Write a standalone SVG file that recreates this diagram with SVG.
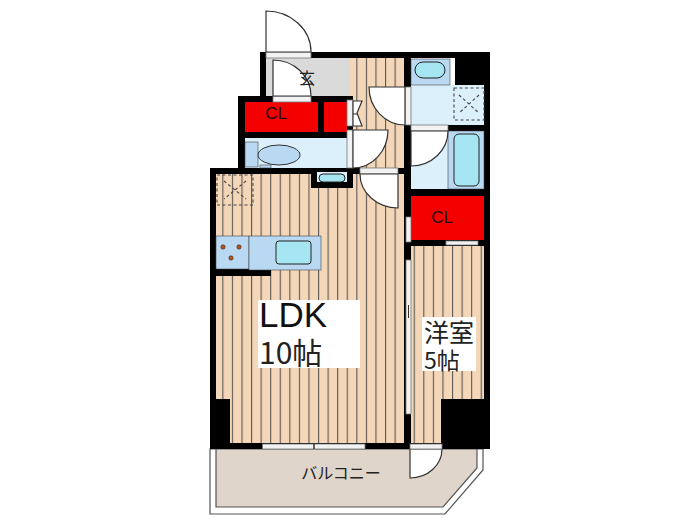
<svg xmlns="http://www.w3.org/2000/svg" width="700" height="525" viewBox="0 0 700 525">
<style>
.w{fill:#000}
.d{fill:#fff;stroke:#333;stroke-width:1.2}
.s{fill:#f2f2f2;stroke:#777;stroke-width:.8}
.b{fill:#b9d8f2;stroke:#444;stroke-width:.6}
.l{fill:#dcf0fb}
.c{fill:#a6e6f2;stroke:#222;stroke-width:1}
.r{fill:#f50000}
.x{fill:none;stroke:#444;stroke-width:1.1;stroke-dasharray:3 2.500}
.t{font-family:"Liberation Sans",Arial,"Noto Sans CJK JP",sans-serif;fill:#111}
.j{font-family:"Noto Sans CJK JP","Liberation Sans",sans-serif;fill:#222}
</style>
<defs>
<pattern id="wood" patternUnits="userSpaceOnUse" x="222.3" y="0" width="9.57" height="20">
<rect width="9.57" height="20" fill="#f4d6b9"/><rect x="0" width="1.1" height="20" fill="#5c5954"/>
</pattern>
</defs>
<rect width="700" height="525" fill="#fff"/>
<g id="balcony">
<path d="M210,449V514H445L483,470V449Z" fill="#fff" stroke="#555" stroke-width="1.2"/>
<path d="M216,449V507H443L477,468V449Z" fill="#e0d5ca" stroke="#555" stroke-width="1.2"/>
<text class="j" x="341" y="479" font-size="16" text-anchor="middle">バルコニー</text>
<path class="d" d="M410,449H442A32,29 0 0 1 410,478Z"/>
</g>
<g id="ldk">
<rect x="216" y="174" width="188" height="270" fill="url(#wood)"/>
<rect x="258" y="300" width="102" height="68" fill="#fff"/>
<text class="t" x="259" y="327" font-size="35">LDK</text>
<text class="j" x="259" y="364" font-size="30">10帖</text>
</g>
<g id="hall"><rect x="349" y="58" width="55" height="118" fill="url(#wood)"/></g>
<g id="genkan"><rect x="266" y="58" width="84" height="38" fill="#dadada"/></g>
<g id="room">
<rect x="411" y="246" width="73" height="198" fill="url(#wood)"/>
<rect x="422" y="317" width="54" height="54" fill="#fff"/>
<text class="j" x="424" y="342" font-size="25">洋室</text>
<text class="j" x="424" y="369" font-size="23">5帖</text>
</g>
<g id="walls">
<rect class="w" x="260" y="52" width="230" height="6"/>
<rect class="w" x="260" y="52" width="6" height="45"/>
<rect class="w" x="455" y="52" width="35" height="34"/>
<rect class="w" x="484" y="52" width="6" height="397"/>
<rect class="w" x="238" y="96" width="115" height="6"/>
<rect class="w" x="238" y="96" width="7" height="78"/>
<rect class="w" x="238" y="132" width="115" height="6"/>
<rect class="w" x="318" y="96" width="6" height="40"/>
<rect class="w" x="347" y="96" width="6" height="42"/>
<rect class="w" x="210" y="168" width="143" height="6"/>
<rect class="w" x="311" y="168" width="42" height="20"/>
<rect class="w" x="347" y="168" width="13" height="6"/>
<rect class="w" x="398" y="168" width="6" height="6"/>
<rect class="w" x="210" y="168" width="6" height="281"/>
<rect class="w" x="210" y="399" width="20" height="50"/>
<rect class="w" x="441" y="399" width="49" height="50"/>
<rect class="w" x="210" y="443" width="280" height="6"/>
<rect class="w" x="404" y="52" width="7" height="392"/>
<rect class="w" x="404" y="189" width="86" height="7"/>
<rect class="w" x="404" y="240" width="86" height="6"/>
<rect class="w" x="216" y="269" width="55" height="7"/>
<rect class="w" x="411" y="125" width="73" height="6"/>
</g>
<g id="closets">
<rect class="r" x="245" y="102" width="73" height="30"/>
<rect class="r" x="324" y="102" width="23" height="30"/>
<rect class="r" x="411" y="196" width="73" height="44"/>
<text class="t" x="276" y="119" font-size="17" text-anchor="middle">CL</text>
<text class="t" x="442" y="223" font-size="17" text-anchor="middle">CL</text>
</g>
<g id="wash">
<rect class="l" x="411" y="85" width="73" height="40"/>
<rect class="b" x="411" y="59" width="39" height="26"/>
<rect class="c" x="415" y="62" width="30" height="16" rx="8"/>
<rect class="x" x="454" y="88" width="30" height="32"/>
<path d="M459,95L479,113M479,95L459,113" class="x"/>
</g>
<g id="bath">
<rect class="l" x="411" y="131" width="37" height="58"/>
<rect class="b" x="448" y="131" width="36" height="58"/>
<rect class="c" x="454" y="134" width="25" height="52" rx="5"/>
</g>
<g id="toilet">
<rect class="l" x="245" y="138" width="102" height="30"/>
<rect class="b" x="245" y="142" width="13" height="25"/>
<rect class="b" x="260" y="165" width="11" height="3"/>
<ellipse cx="279" cy="155" rx="21" ry="10" fill="#b9d8f2" stroke="#333" stroke-width="1"/>
<rect class="l" x="317" y="172" width="30" height="10"/>
<rect class="c" x="319" y="174" width="26" height="8" rx="4"/>
</g>
<g id="kitchen">
<rect class="b" x="216" y="236" width="33" height="33"/>
<rect class="b" x="249" y="236" width="72" height="34"/>
<rect class="c" x="276" y="241" width="35" height="23" rx="3"/>
<circle cx="223" cy="247" r="2.200" fill="#b3541e" stroke="#222" stroke-width=".5"/>
<circle cx="239" cy="247" r="2.200" fill="#b3541e" stroke="#222" stroke-width=".5"/>
<circle cx="231" cy="258" r="2.200" fill="#b3541e" stroke="#222" stroke-width=".5"/>
<rect class="x" x="217" y="175" width="36" height="30"/>
<path d="M224,181L246,199M246,181L224,199" class="x"/>
</g>
<g id="doors">
<rect class="s" x="266" y="52" width="45" height="6"/>
<path class="d" d="M266,52V11A45,41 0 0 1 311,52Z"/>
<rect class="s" x="273" y="96" width="38" height="6"/>
<path class="d" d="M273,96V60A38,36 0 0 1 311,96Z"/>
<rect class="s" x="405" y="87" width="6" height="38"/>
<path class="d" d="M405,87H369A36,38 0 0 0 405,125Z"/>
<rect class="s" x="411" y="125" width="37" height="6"/>
<path class="d" d="M411,131H448A37,35 0 0 1 411,166Z"/>
<rect class="s" x="347" y="130" width="6" height="38"/>
<path class="d" d="M353,130H388A35,38 0 0 1 353,168Z"/>
<rect class="s" x="360" y="168" width="38" height="6"/>
<path class="d" d="M360,174H398V208A38,34 0 0 1 360,174Z"/>
<rect class="s" x="347" y="100" width="6" height="26"/>
<path class="d" d="M353,101H362L357,113L362,126H353Z"/>
<path d="M353,114H357" stroke="#333" stroke-width="1"/>
<rect class="s" x="410" y="444" width="32" height="5"/>
<rect class="s" x="446" y="241" width="32" height="4"/>
<rect class="s" x="406" y="217" width="5" height="25"/>
<rect class="s" x="406" y="260" width="5" height="154"/>
<path d="M408.500,305V318" stroke="#333" stroke-width="1"/>
<rect class="s" x="262.500" y="444" width="102.500" height="5"/>
<path d="M314,443V449" stroke="#333" stroke-width="1.500"/>
</g>
<text class="j" x="307" y="84" font-size="16" text-anchor="middle">玄</text>
</svg>
